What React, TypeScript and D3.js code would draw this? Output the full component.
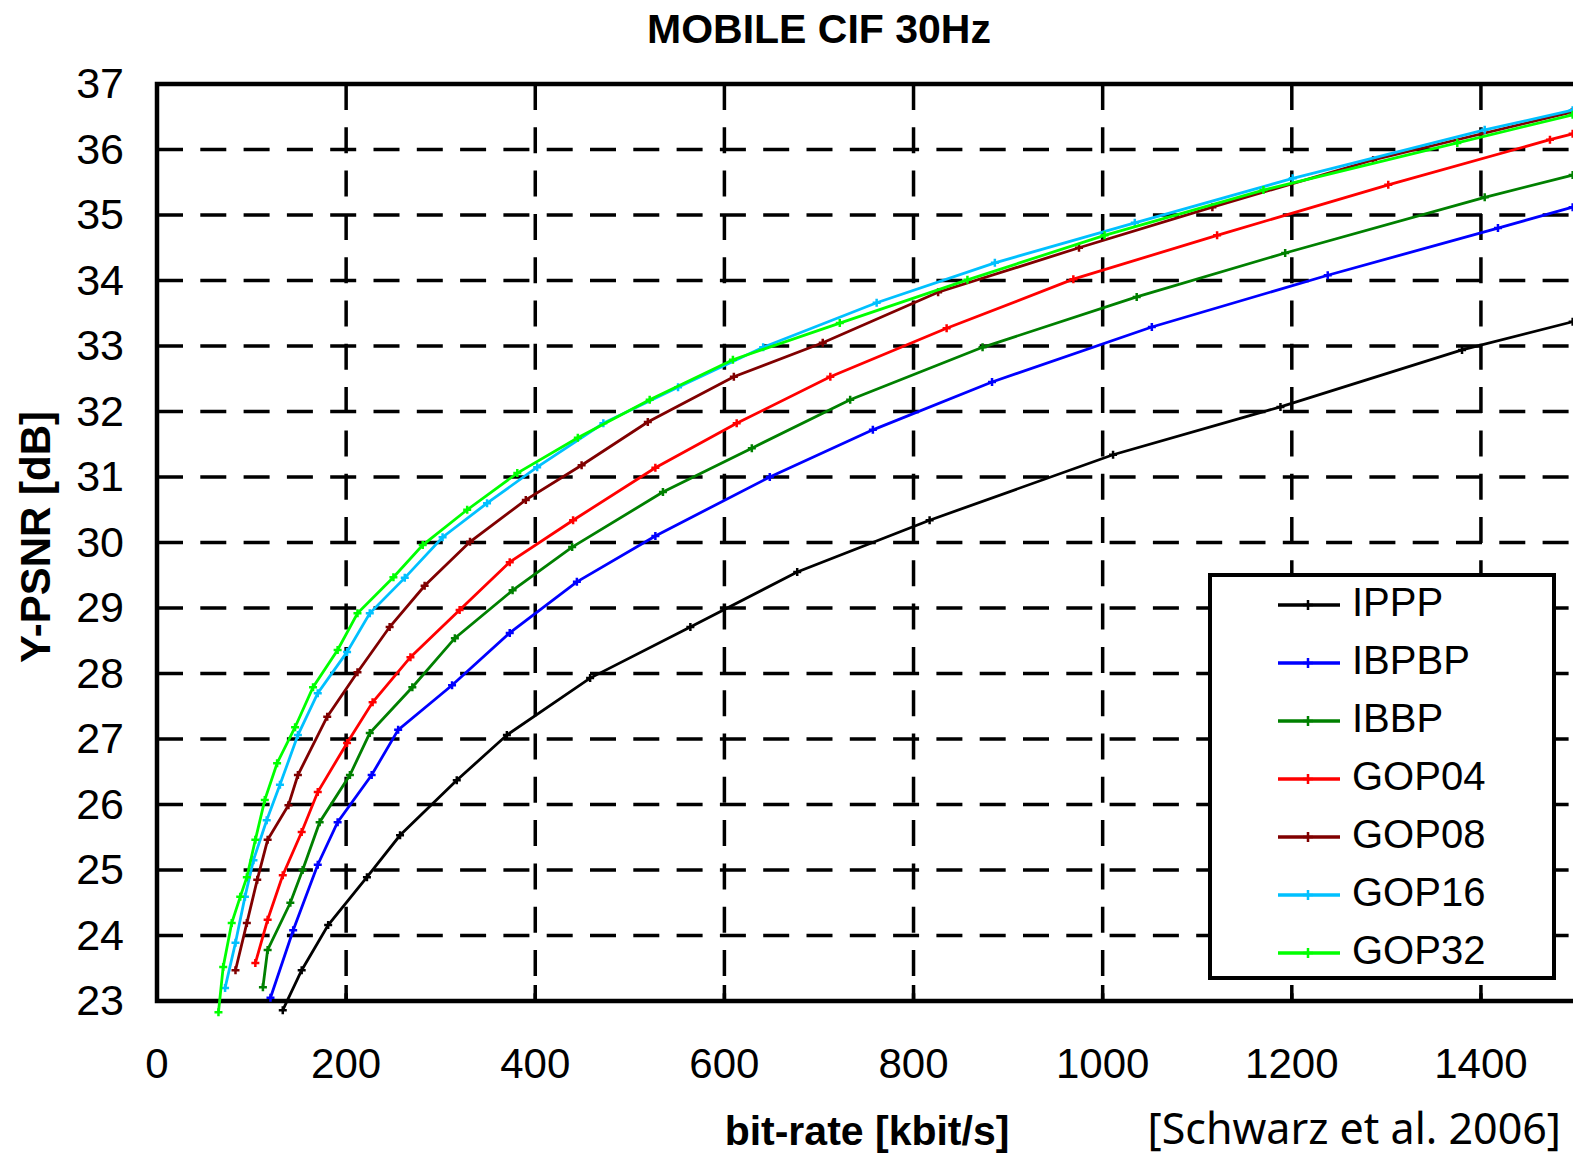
import * as d3 from "d3";
import { useEffect, useRef } from "react";

// bit-rate [kbit/s] and Y-PSNR [dB], one pair of arrays per curve
const ipppRate = [133, 153, 181, 222, 257, 317, 370, 458, 564, 677, 817, 1011, 1188, 1380, 1497];
const ipppPsnr = [22.86, 23.47, 24.16, 24.89, 25.53, 26.37, 27.06, 27.93, 28.71, 29.55, 30.34, 31.34, 32.07, 32.94, 33.37];

const ibpbpRate = [120, 144, 170, 191, 227, 255, 312, 373, 444, 527, 648, 757, 883, 1052, 1238, 1418, 1497];
const ibpbpPsnr = [23.05, 24.08, 25.08, 25.73, 26.45, 27.14, 27.82, 28.62, 29.4, 30.1, 31.0, 31.72, 32.45, 33.29, 34.08, 34.8, 35.12];

const ibbpRate = [112, 117, 141, 154, 172, 204, 225, 270, 315, 376, 439, 535, 629, 733, 873, 1036, 1193, 1404, 1497];
const ibbpPsnr = [23.21, 23.78, 24.5, 25.0, 25.73, 26.45, 27.09, 27.79, 28.54, 29.27, 29.93, 30.77, 31.44, 32.18, 32.98, 33.75, 34.42, 35.27, 35.61];

const gop04Rate = [104, 117, 133, 153, 170, 201, 228, 268, 320, 373, 440, 527, 613, 712, 835, 969, 1121, 1302, 1473, 1497];
const gop04Psnr = [23.58, 24.24, 24.92, 25.58, 26.19, 26.94, 27.56, 28.25, 28.97, 29.7, 30.34, 31.14, 31.82, 32.53, 33.27, 34.02, 34.69, 35.46, 36.15, 36.24];

const gop08Rate = [83, 95, 106, 117, 139, 149, 180, 212, 246, 283, 331, 390, 449, 519, 610, 704, 826, 975, 1116, 1286, 1496];
const gop08Psnr = [23.47, 24.19, 24.85, 25.46, 25.99, 26.45, 27.34, 28.02, 28.71, 29.34, 30.01, 30.65, 31.18, 31.84, 32.53, 33.05, 33.82, 34.5, 35.12, 35.84, 36.57];

const gop16Rate = [72, 83, 93, 102, 116, 130, 149, 170, 201, 225, 262, 302, 349, 402, 472, 551, 641, 761, 886, 1034, 1201, 1404, 1497];
const gop16Psnr = [23.2, 23.89, 24.59, 25.15, 25.76, 26.3, 27.06, 27.7, 28.33, 28.92, 29.46, 30.08, 30.6, 31.15, 31.82, 32.37, 32.98, 33.66, 34.27, 34.88, 35.56, 36.3, 36.6];

const gop32Rate = [65, 70, 79, 88, 95, 104, 114, 127, 146, 165, 191, 212, 250, 281, 328, 381, 445, 521, 609, 722, 857, 1002, 1170, 1375, 1497];
const gop32Psnr = [22.83, 23.52, 24.19, 24.59, 24.89, 25.46, 26.07, 26.63, 27.18, 27.79, 28.36, 28.92, 29.47, 29.96, 30.5, 31.06, 31.6, 32.18, 32.79, 33.35, 34.01, 34.69, 35.38, 36.1, 36.53];

const seriesNames = ["IPPP", "IBPBP", "IBBP", "GOP04", "GOP08", "GOP16", "GOP32"];
const seriesColors = ["#000000", "#0000ff", "#008000", "#ff0000", "#800000", "#00c0ff", "#00ff00"];
const seriesRates = [ipppRate, ibpbpRate, ibbpRate, gop04Rate, gop08Rate, gop16Rate, gop32Rate];
const seriesPsnrs = [ipppPsnr, ibpbpPsnr, ibbpPsnr, gop04Psnr, gop08Psnr, gop16Psnr, gop32Psnr];

const xTicks = [0, 200, 400, 600, 800, 1000, 1200, 1400];
const yTicks = [23, 24, 25, 26, 27, 28, 29, 30, 31, 32, 33, 34, 35, 36, 37];

const font = "'Liberation Sans', Arial, sans-serif";

const renderChart = (node: SVGSVGElement) => {
    const svg = d3.select(node);
    svg.selectAll("*").remove();

    const left = 157, right = 1575.5, top = 84, bottom = 1001;
    const x = d3.scaleLinear().domain([0, 1500]).range([left, right]);
    const y = d3.scaleLinear().domain([23, 37]).range([bottom, top]);

    svg.append("rect").attr("width", 1573).attr("height", 1159).attr("fill", "#fff");

    // grid
    const grid = svg.append("g").attr("stroke", "#000").attr("stroke-width", 3.5).attr("stroke-dasharray", "26 17.3");
    grid.selectAll("line.h").data(yTicks.slice(1, -1)).enter().append("line")
        .attr("class", "h")
        .attr("x1", left).attr("x2", right)
        .attr("y1", d => y(d)).attr("y2", d => y(d));
    grid.selectAll("line.v").data(xTicks.slice(1)).enter().append("line")
        .attr("class", "v")
        .attr("x1", d => x(d)).attr("x2", d => x(d))
        .attr("y1", top).attr("y2", bottom);

    // bottom ticks
    svg.append("g").selectAll("line").data(xTicks.slice(1)).enter().append("line")
        .attr("x1", d => x(d)).attr("x2", d => x(d))
        .attr("y1", bottom).attr("y2", bottom - 16)
        .attr("stroke", "#000").attr("stroke-width", 3.5);

    // border
    svg.append("rect")
        .attr("x", left).attr("y", top)
        .attr("width", right - left).attr("height", bottom - top)
        .attr("fill", "none").attr("stroke", "#000").attr("stroke-width", 4.5);

    // tick labels
    svg.append("g").selectAll("text").data(yTicks).enter().append("text")
        .attr("x", 124).attr("y", d => y(d) + 14)
        .attr("text-anchor", "end")
        .attr("font-family", font).attr("font-size", 43)
        .text(d => d);
    svg.append("g").selectAll("text").data(xTicks).enter().append("text")
        .attr("x", d => x(d)).attr("y", 1078)
        .attr("text-anchor", "middle")
        .attr("font-family", font).attr("font-size", 42)
        .text(d => d);

    // titles
    svg.append("text")
        .attr("x", 819).attr("y", 43)
        .attr("text-anchor", "middle")
        .attr("font-family", font).attr("font-size", 41).attr("font-weight", "bold")
        .text("MOBILE CIF 30Hz");
    svg.append("text")
        .attr("transform", "translate(50,537) rotate(-90)")
        .attr("text-anchor", "middle")
        .attr("font-family", font).attr("font-size", 42).attr("font-weight", "bold")
        .text("Y-PSNR [dB]");
    svg.append("text")
        .attr("x", 867).attr("y", 1145)
        .attr("text-anchor", "middle")
        .attr("font-family", font).attr("font-size", 41).attr("font-weight", "bold")
        .text("bit-rate [kbit/s]");
    svg.append("text")
        .attr("x", 1561).attr("y", 1144)
        .attr("text-anchor", "end")
        .attr("font-family", "'Noto Sans', 'Open Sans', sans-serif").attr("font-size", 43)
        .text("[Schwarz et al. 2006]");

    // curves
    const line = d3.line<[number, number]>().x(d => x(d[0])).y(d => y(d[1]));
    const curves = svg.append("g");
    seriesNames.forEach((name, i) => {
        const pts: [number, number][] = seriesRates[i].map((r, k) => [r, seriesPsnrs[i][k]]);
        const g = curves.append("g").attr("class", name);
        g.append("path")
            .attr("d", line(pts))
            .attr("fill", "none")
            .attr("stroke", seriesColors[i])
            .attr("stroke-width", 2.8);
        g.selectAll("path.m").data(pts).enter().append("path")
            .attr("class", "m")
            .attr("d", d => `M${x(d[0]) - 4},${y(d[1])}h8M${x(d[0])},${y(d[1]) - 4}v8`)
            .attr("stroke", seriesColors[i])
            .attr("stroke-width", 2.5);
    });

    // legend
    const legend = svg.append("g");
    legend.append("rect")
        .attr("x", 1210).attr("y", 575).attr("width", 344).attr("height", 403)
        .attr("fill", "#fff").attr("stroke", "#000").attr("stroke-width", 4);
    const rowY = d3.scaleLinear().domain([0, 6]).range([605, 953]);
    seriesNames.forEach((name, i) => {
        const yy = rowY(i);
        legend.append("line")
            .attr("x1", 1278).attr("x2", 1340).attr("y1", yy).attr("y2", yy)
            .attr("stroke", seriesColors[i]).attr("stroke-width", 3.5);
        legend.append("path")
            .attr("d", `M1303,${yy}h10M1308,${yy - 5}v10`)
            .attr("stroke", seriesColors[i]).attr("stroke-width", 2.5);
        legend.append("text")
            .attr("x", 1352).attr("y", yy + 11)
            .attr("font-family", font).attr("font-size", 40)
            .text(name);
    });
};

const App = () => {
    const ref = useRef<SVGSVGElement>(null);
    useEffect(() => {
        if (ref.current) renderChart(ref.current);
    });

    return (
        <svg ref={ref} width="1573" height="1159" style={{ position: "absolute", left: 0, top: 0, display: "block" }} />
    );
};

export default App;
